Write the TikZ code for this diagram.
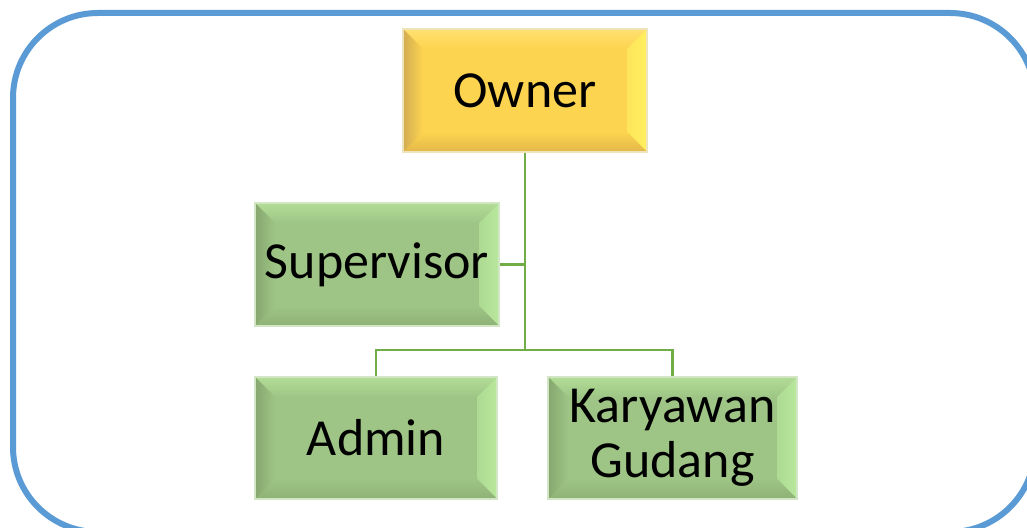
\documentclass[tikz,border=0pt]{standalone}
\usepackage{fontspec}
\setmainfont{Carlito}
\usetikzlibrary{calc}
\definecolor{framebl}{HTML}{5B9BD5}
\definecolor{linegr}{HTML}{70AD47}
\definecolor{gmid}{HTML}{9EC585}
\definecolor{gtop}{HTML}{B2DD96}
\definecolor{gright}{HTML}{B8E89C}
\definecolor{gbot}{HTML}{8FB177}
\definecolor{gleft}{HTML}{86A76F}
\definecolor{gedge}{HTML}{D2E6C6}
\definecolor{ymid}{HTML}{FDD44F}
\definecolor{ytop}{HTML}{FFE070}
\definecolor{yright}{HTML}{FFF060}
\definecolor{ybot}{HTML}{E2B74A}
\definecolor{yleft}{HTML}{D2AC52}
\definecolor{yedge}{HTML}{EEE4BC}
\tikzset{
  bevelbox/.style n args={6}{
    draw=#6, line width=1.5pt, fill=#1, inner sep=0pt, align=center,
    font=\fontsize{52}{55}\selectfont,
    path picture={
      \def\b{20}
      \coordinate (NW) at (path picture bounding box.north west);
      \coordinate (NE) at (path picture bounding box.north east);
      \coordinate (SW) at (path picture bounding box.south west);
      \coordinate (SE) at (path picture bounding box.south east);
      \shade[top color=#2, bottom color=#1] (NW) -- (NE) -- ($(NE)+(-\b,-\b)$) -- ($(NW)+(\b,-\b)$) -- cycle;
      \shade[right color=#3, left color=#1!40!#3] (NE) -- (SE) -- ($(SE)+(-\b,\b)$) -- ($(NE)+(-\b,-\b)$) -- cycle;
      \shade[bottom color=#4, top color=#1] (SE) -- (SW) -- ($(SW)+(\b,\b)$) -- ($(SE)+(-\b,\b)$) -- cycle;
      \shade[left color=#5, right color=#1] (SW) -- (NW) -- ($(NW)+(\b,-\b)$) -- ($(SW)+(\b,\b)$) -- cycle;
    }},
  greenbox/.style={bevelbox={gmid}{gtop}{gright}{gbot}{gleft}{gedge}},
  yellowbox/.style={bevelbox={ymid}{ytop}{yright}{ybot}{yleft}{yedge}},
  conn/.style={draw=linegr, line width=2.6pt},
}
\begin{document}
\begin{tikzpicture}[x=1pt,y=1pt]
\useasboundingbox (0,0) rectangle (1027,527);
\clip (0,0) rectangle (1027,527);
\fill[white] (0,0) rectangle (1027,527);
\draw[framebl, line width=6pt, rounded corners=85pt] (13,514) rectangle (1035,-5);

\node[yellowbox, minimum width=244pt, minimum height=123pt] (owner) at (525,436.5) {Owner};
\node[greenbox, minimum width=244pt, minimum height=123pt] (sup) at (377,262.5) {Supervisor};
\node[greenbox, minimum width=242pt, minimum height=122pt] (adm) at (376,89) {Admin};
\node[greenbox, minimum width=249pt, minimum height=122pt] (kar) at (672.5,89) {Karyawan\\Gudang};

\coordinate (j) at (525,177);
\draw[conn] (owner.south) -- (j);
\draw[conn] (sup.east) -- (sup.east -| j);
\draw[conn] (adm.north) |- (j) -| (kar.north);
\end{tikzpicture}
\end{document}
